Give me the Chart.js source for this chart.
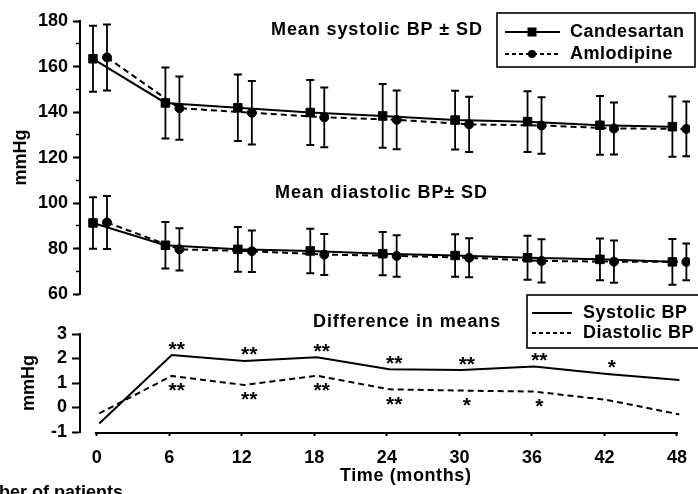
<!DOCTYPE html>
<html><head><meta charset="utf-8">
<script src="https://cdn.jsdelivr.net/npm/chart.js@4/dist/chart.umd.min.js"></script>
<style>
html,body{margin:0;padding:0;background:#fff;width:698px;height:494px;overflow:hidden;position:relative;}
canvas{position:absolute;left:0;}
#topc{top:0;}
#botc{top:280px;}
</style></head><body>
<canvas id="topc" width="698" height="310"></canvas>
<canvas id="botc" width="698" height="214"></canvas>
<script>
// ---------- data ----------
const months = [0, 6, 12, 18, 24, 30, 36, 42, 48];
const xTickLabels = ['0', '6', '12', '18', '24', '30', '36', '42', '48'];
const topYTicks = [60, 80, 100, 120, 140, 160, 180];
const botYTicks = [-1, 0, 1, 2, 3];

const sysCand   = [163.4, 144.0, 141.9, 139.8, 138.3, 136.5, 135.8, 134.2, 133.6];
const sysCandSD = [14.5, 15.6, 14.6, 14.3, 14.0, 12.9, 13.3, 12.9, 13.2];
const sysAmlo   = [164.0, 141.7, 139.7, 137.7, 136.6, 134.6, 134.1, 132.8, 132.6];
const sysAmloSD = [14.5, 13.9, 13.9, 13.1, 12.9, 12.1, 12.4, 11.4, 12.0];
const diaCand   = [91.3, 81.5, 79.7, 79.0, 77.8, 77.0, 76.0, 75.3, 74.2];
const diaCandSD = [11.3, 10.2, 9.8, 9.8, 9.5, 9.3, 9.7, 9.2, 10.0];
const diaAmlo   = [91.5, 79.7, 78.9, 77.4, 76.8, 76.0, 74.6, 74.3, 74.2];
const diaAmloSD = [11.6, 9.3, 9.1, 9.0, 9.1, 8.6, 9.5, 9.3, 8.1];

const diffSys = [-0.65, 2.14, 1.90, 2.05, 1.56, 1.53, 1.67, 1.37, 1.12];
const diffDia = [-0.24, 1.29, 0.92, 1.30, 0.74, 0.69, 0.65, 0.31, -0.28];
const starsAbove = ['', '**', '**', '**', '**', '**', '**', '*', ''];
const starsBelow = ['', '**', '**', '**', '**', '*', '*', '', ''];

// ---------- style ----------
const FAM = "'Liberation Sans', Arial, Helvetica, sans-serif";
const BLACK = '#000';
const CAND_SHIFT = -0.58, AMLO_SHIFT = 0.58, DIFF_SHIFT = 0.2;
const DASH = [6, 4];

function errData(xs, means, sds) {
  const out = [];
  xs.forEach((x, i) => {
    out.push({x: x, y: means[i] - sds[i]}, {x: x, y: means[i] + sds[i]}, {x: x, y: null});
  });
  return out;
}
function ptData(xs, ys) { return xs.map((x, i) => ({x: x, y: ys[i]})); }
function errSet(xs, means, sds) {
  return {data: errData(xs, means, sds), borderColor: BLACK, borderWidth: 1.8, spanGaps: false,
    pointStyle: 'line', pointRadius: 4, pointBorderWidth: 2, pointBorderColor: BLACK, fill: false, tension: 0};
}
function meanSet(xs, ys, style, dash) {
  return {data: ptData(xs, ys), borderColor: BLACK, borderWidth: 2, borderDash: dash || [],
    pointStyle: style, pointRadius: style === 'rect' ? 6 : 4.5, pointBackgroundColor: BLACK,
    pointBorderColor: BLACK, pointBorderWidth: 1, fill: false, tension: 0};
}
function drawText(ctx, txt, x, y, size, opts) {
  opts = opts || {};
  ctx.save();
  ctx.font = 'bold ' + size + 'px ' + FAM;
  ctx.fillStyle = BLACK;
  ctx.textBaseline = opts.baseline || 'middle';
  ctx.textAlign = opts.align || 'left';
  if ('letterSpacing' in ctx) ctx.letterSpacing = (opts.ls !== undefined ? opts.ls : 0.9) + 'px';
  ctx.fillText(txt, x, y);
  ctx.restore();
}
function hline(ctx, x1, x2, y, dash, color, width) {
  ctx.save();
  ctx.strokeStyle = color || BLACK; ctx.lineWidth = width || 2; ctx.setLineDash(dash || []);
  ctx.beginPath(); ctx.moveTo(x1, y); ctx.lineTo(x2, y); ctx.stroke();
  ctx.restore();
}
const tickFont = {size: 18, weight: 'bold', family: FAM};

const candX = months.map(m => m + CAND_SHIFT);
const amloX = months.map(m => m + AMLO_SHIFT);

// ---------- top chart ----------
const topOverlay = {
  id: 'topOverlay',
  afterDraw(chart) {
    const ctx = chart.ctx;
    drawText(ctx, 'Mean systolic BP \u00B1 SD', 271, 30, 18);
    drawText(ctx, 'Mean diastolic BP\u00B1 SD', 275, 193, 18);
    ctx.save();
    ctx.strokeStyle = BLACK; ctx.lineWidth = 1.6;
    ctx.strokeRect(497, 13, 198, 54);
    ctx.restore();
    hline(ctx, 505, 560, 32);
    ctx.fillStyle = BLACK; ctx.fillRect(527.5, 27.5, 9, 9);
    drawText(ctx, 'Candesartan', 570, 32, 18, {ls: 0.5});
    hline(ctx, 505, 560, 54, [4, 3]);
    ctx.beginPath(); ctx.arc(532, 54, 4, 0, Math.PI * 2); ctx.fill();
    drawText(ctx, 'Amlodipine', 570, 54, 18, {ls: 0.5});
  }
};

new Chart(document.getElementById('topc'), {
  type: 'line',
  data: {datasets: [
    errSet(candX, sysCand, sysCandSD),
    errSet(amloX, sysAmlo, sysAmloSD),
    errSet(candX, diaCand, diaCandSD),
    errSet(amloX, diaAmlo, diaAmloSD),
    meanSet(candX, sysCand, 'rect'),
    meanSet(amloX, sysAmlo, 'circle', DASH),
    meanSet(candX, diaCand, 'rect'),
    meanSet(amloX, diaAmlo, 'circle', DASH)
  ]},
  options: {
    responsive: false, animation: false, devicePixelRatio: 1,
    layout: {padding: {top: 21, bottom: 13, left: 0, right: 8}},
    plugins: {legend: {display: false}, tooltip: {enabled: false}},
    scales: {
      x: {type: 'linear', display: false, min: -1.657, max: 48.88},
      y: {type: 'linear', position: 'left', weight: 1, min: 60, max: 180,
        afterBuildTicks(s) { s.ticks = topYTicks.map(v => ({value: v})); },
        ticks: {font: tickFont, color: BLACK, padding: 5, autoSkip: false},
        grid: {drawOnChartArea: false, tickLength: 7, tickWidth: 2, tickColor: BLACK},
        border: {display: true, color: BLACK, width: 2},
        title: {display: true, text: 'mmHg', font: tickFont, color: BLACK, padding: {top: 10, bottom: 0}},
        afterFit(s) { s.width = 80; }},
      yMinor: {type: 'linear', position: 'left', weight: 0, min: 60, max: 180,
        ticks: {stepSize: 10, display: false, autoSkip: false},
        grid: {drawOnChartArea: false, tickLength: 4, tickWidth: 1.5, tickColor: BLACK},
        border: {display: false},
        afterFit(s) { s.width = 0; }}
    }
  },
  plugins: [topOverlay]
});

// ---------- bottom chart ----------
const diffX = months.map(m => m + DIFF_SHIFT);
const botOverlay = {
  id: 'botOverlay',
  afterDraw(chart) {
    const ctx = chart.ctx;
    const xs = chart.scales.x, ys = chart.scales.y;
    const yb = chart.chartArea.bottom + 1;
    hline(ctx, xs.getPixelForValue(0) - 2, xs.getPixelForValue(48) + 1, yb);
    months.forEach((m, i) => {
      const px = xs.getPixelForValue(diffX[i]) + 5;
      if (starsAbove[i]) drawText(ctx, starsAbove[i], px, ys.getPixelForValue(diffSys[i]) + 0.5, 21, {align: 'center', baseline: 'alphabetic', ls: 0});
      if (starsBelow[i]) drawText(ctx, starsBelow[i], px, ys.getPixelForValue(diffDia[i]) + 21.5, 21, {align: 'center', baseline: 'alphabetic', ls: 0});
    });
    drawText(ctx, 'Difference in means', 313, 42, 18);
    ctx.save();
    ctx.strokeStyle = BLACK; ctx.lineWidth = 1.6;
    ctx.strokeRect(527, 15, 180, 53);
    ctx.restore();
    hline(ctx, 532, 572, 33);
    drawText(ctx, 'Systolic BP', 583, 33, 18, {ls: 0.5});
    hline(ctx, 532, 572, 53, [4, 3]);
    drawText(ctx, 'Diastolic BP', 583, 53, 18, {ls: 0.5});
    drawText(ctx, 'Time (months)', 340, 196, 18, {ls: 0.6});
    ctx.save();
    ctx.font = 'bold 18px ' + FAM;
    const w = ctx.measureText('Num').width;
    ctx.restore();
    drawText(ctx, 'Number of patients', -w - 1, 218, 18, {baseline: 'alphabetic', ls: 0});
  }
};

new Chart(document.getElementById('botc'), {
  type: 'line',
  data: {datasets: [
    {data: ptData(diffX, diffSys), borderColor: BLACK, borderWidth: 2, pointRadius: 0, fill: false, tension: 0},
    {data: ptData(diffX, diffDia), borderColor: BLACK, borderWidth: 2, borderDash: DASH, pointRadius: 0, fill: false, tension: 0}
  ]},
  options: {
    responsive: false, animation: false, devicePixelRatio: 1,
    layout: {padding: {top: 54, bottom: 22, left: 0, right: 4}},
    plugins: {legend: {display: false}, tooltip: {enabled: false}},
    scales: {
      x: {type: 'linear', position: 'bottom', min: -1.393, max: 48.9,
        afterBuildTicks(s) { s.ticks = months.map(v => ({value: v})); },
        ticks: {font: tickFont, color: BLACK, padding: 11, autoSkip: false, maxRotation: 0,
          callback: (v, i) => xTickLabels[i]},
        grid: {drawOnChartArea: false, tickLength: 4, tickWidth: 2, tickColor: BLACK, offset: false},
        border: {display: false},
        afterFit(s) { s.height = 40; }},
      y: {type: 'linear', position: 'left', min: -1, max: 3,
        afterBuildTicks(s) { s.ticks = botYTicks.map(v => ({value: v})); },
        ticks: {font: tickFont, color: BLACK, padding: 5, autoSkip: false},
        grid: {drawOnChartArea: false, tickLength: 8, tickWidth: 2, tickColor: BLACK},
        border: {display: true, color: BLACK, width: 2},
        title: {display: true, text: 'mmHg', font: tickFont, color: BLACK, padding: {top: 18, bottom: 0}},
        afterFit(s) { s.width = 80; }}
    }
  },
  plugins: [botOverlay]
});
</script>
</body></html>
